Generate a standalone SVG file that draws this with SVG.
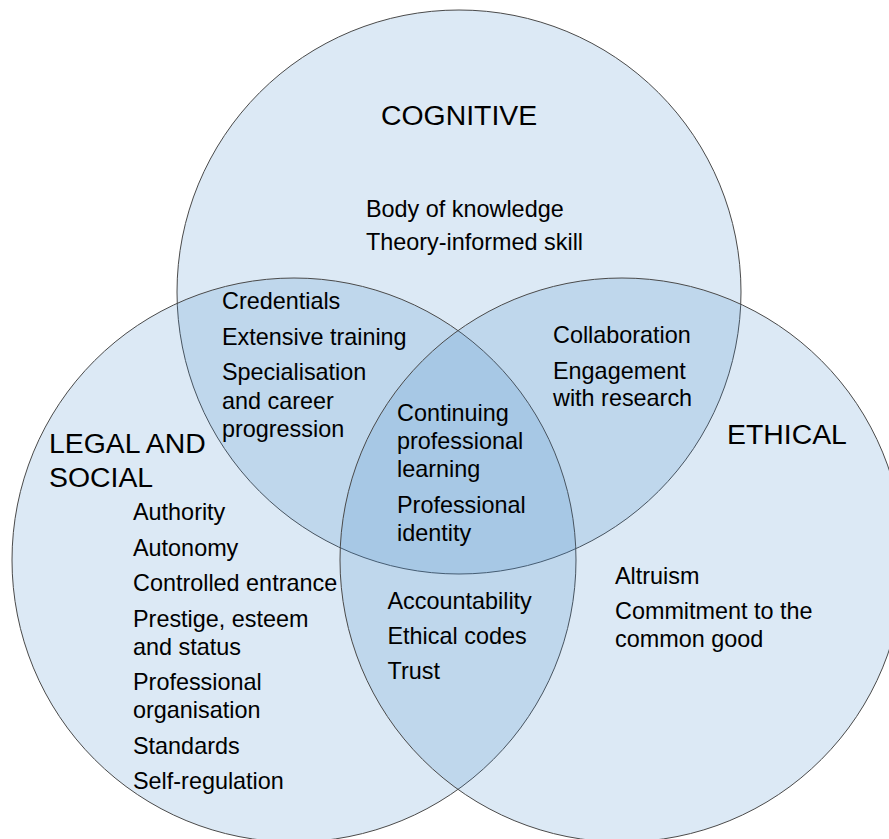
<svg xmlns="http://www.w3.org/2000/svg" width="889" height="839" viewBox="0 0 889 839">
  <style>
    .set { fill: #3d85c6; fill-opacity: 0.18; stroke: #4a4a4a; stroke-width: 1; }
    .title { font-family: "Liberation Sans", Arial, sans-serif; font-size: 28.4px; fill: #000; }
    .item { font-family: "Liberation Sans", Arial, sans-serif; font-size: 23.4px; fill: #000; }
  </style>
  <rect width="889" height="839" fill="#ffffff"/>

  <!-- three overlapping sets -->
  <g id="cognitive">
    <circle class="set" cx="459" cy="292" r="282"/>
    <text class="title" x="381" y="124.5">COGNITIVE</text>
    <text class="item" x="366" y="217">Body of knowledge</text>
    <text class="item" x="366" y="250">Theory-informed skill</text>
  </g>
  <g id="legal-social">
    <circle class="set" cx="294" cy="560" r="282"/>
    <text class="title" x="49" y="452.5">LEGAL AND</text>
    <text class="title" x="49" y="486.5">SOCIAL</text>
    <text class="item" x="133" y="520">Authority</text>
    <text class="item" x="133" y="555.5">Autonomy</text>
    <text class="item" x="133" y="591">Controlled entrance</text>
    <text class="item" x="133" y="626.5">Prestige, esteem</text>
    <text class="item" x="133" y="654.5">and status</text>
    <text class="item" x="133" y="690">Professional</text>
    <text class="item" x="133" y="718">organisation</text>
    <text class="item" x="133" y="753.5">Standards</text>
    <text class="item" x="133" y="789">Self-regulation</text>
  </g>
  <g id="ethical">
    <circle class="set" cx="622" cy="560" r="282"/>
    <text class="title" x="727" y="444">ETHICAL</text>
    <text class="item" x="615" y="583.5">Altruism</text>
    <text class="item" x="615" y="619">Commitment to the</text>
    <text class="item" x="615" y="647">common good</text>
  </g>

  <!-- overlap regions -->
  <g id="cognitive-legal">
    <text class="item" x="222" y="309">Credentials</text>
    <text class="item" x="222" y="345">Extensive training</text>
    <text class="item" x="222" y="380">Specialisation</text>
    <text class="item" x="222" y="408.5">and career</text>
    <text class="item" x="222" y="437">progression</text>
  </g>
  <g id="cognitive-ethical">
    <text class="item" x="553" y="342.5">Collaboration</text>
    <text class="item" x="553" y="378.5">Engagement</text>
    <text class="item" x="553" y="406">with research</text>
  </g>
  <g id="legal-ethical">
    <text class="item" x="387.5" y="608.5">Accountability</text>
    <text class="item" x="387.5" y="643.5">Ethical codes</text>
    <text class="item" x="387.5" y="678.5">Trust</text>
  </g>
  <g id="all-three">
    <text class="item" x="397" y="421">Continuing</text>
    <text class="item" x="397" y="449">professional</text>
    <text class="item" x="397" y="477">learning</text>
    <text class="item" x="397" y="512.5">Professional</text>
    <text class="item" x="397" y="541">identity</text>
  </g>

  <g id="connectors"></g>
</svg>
